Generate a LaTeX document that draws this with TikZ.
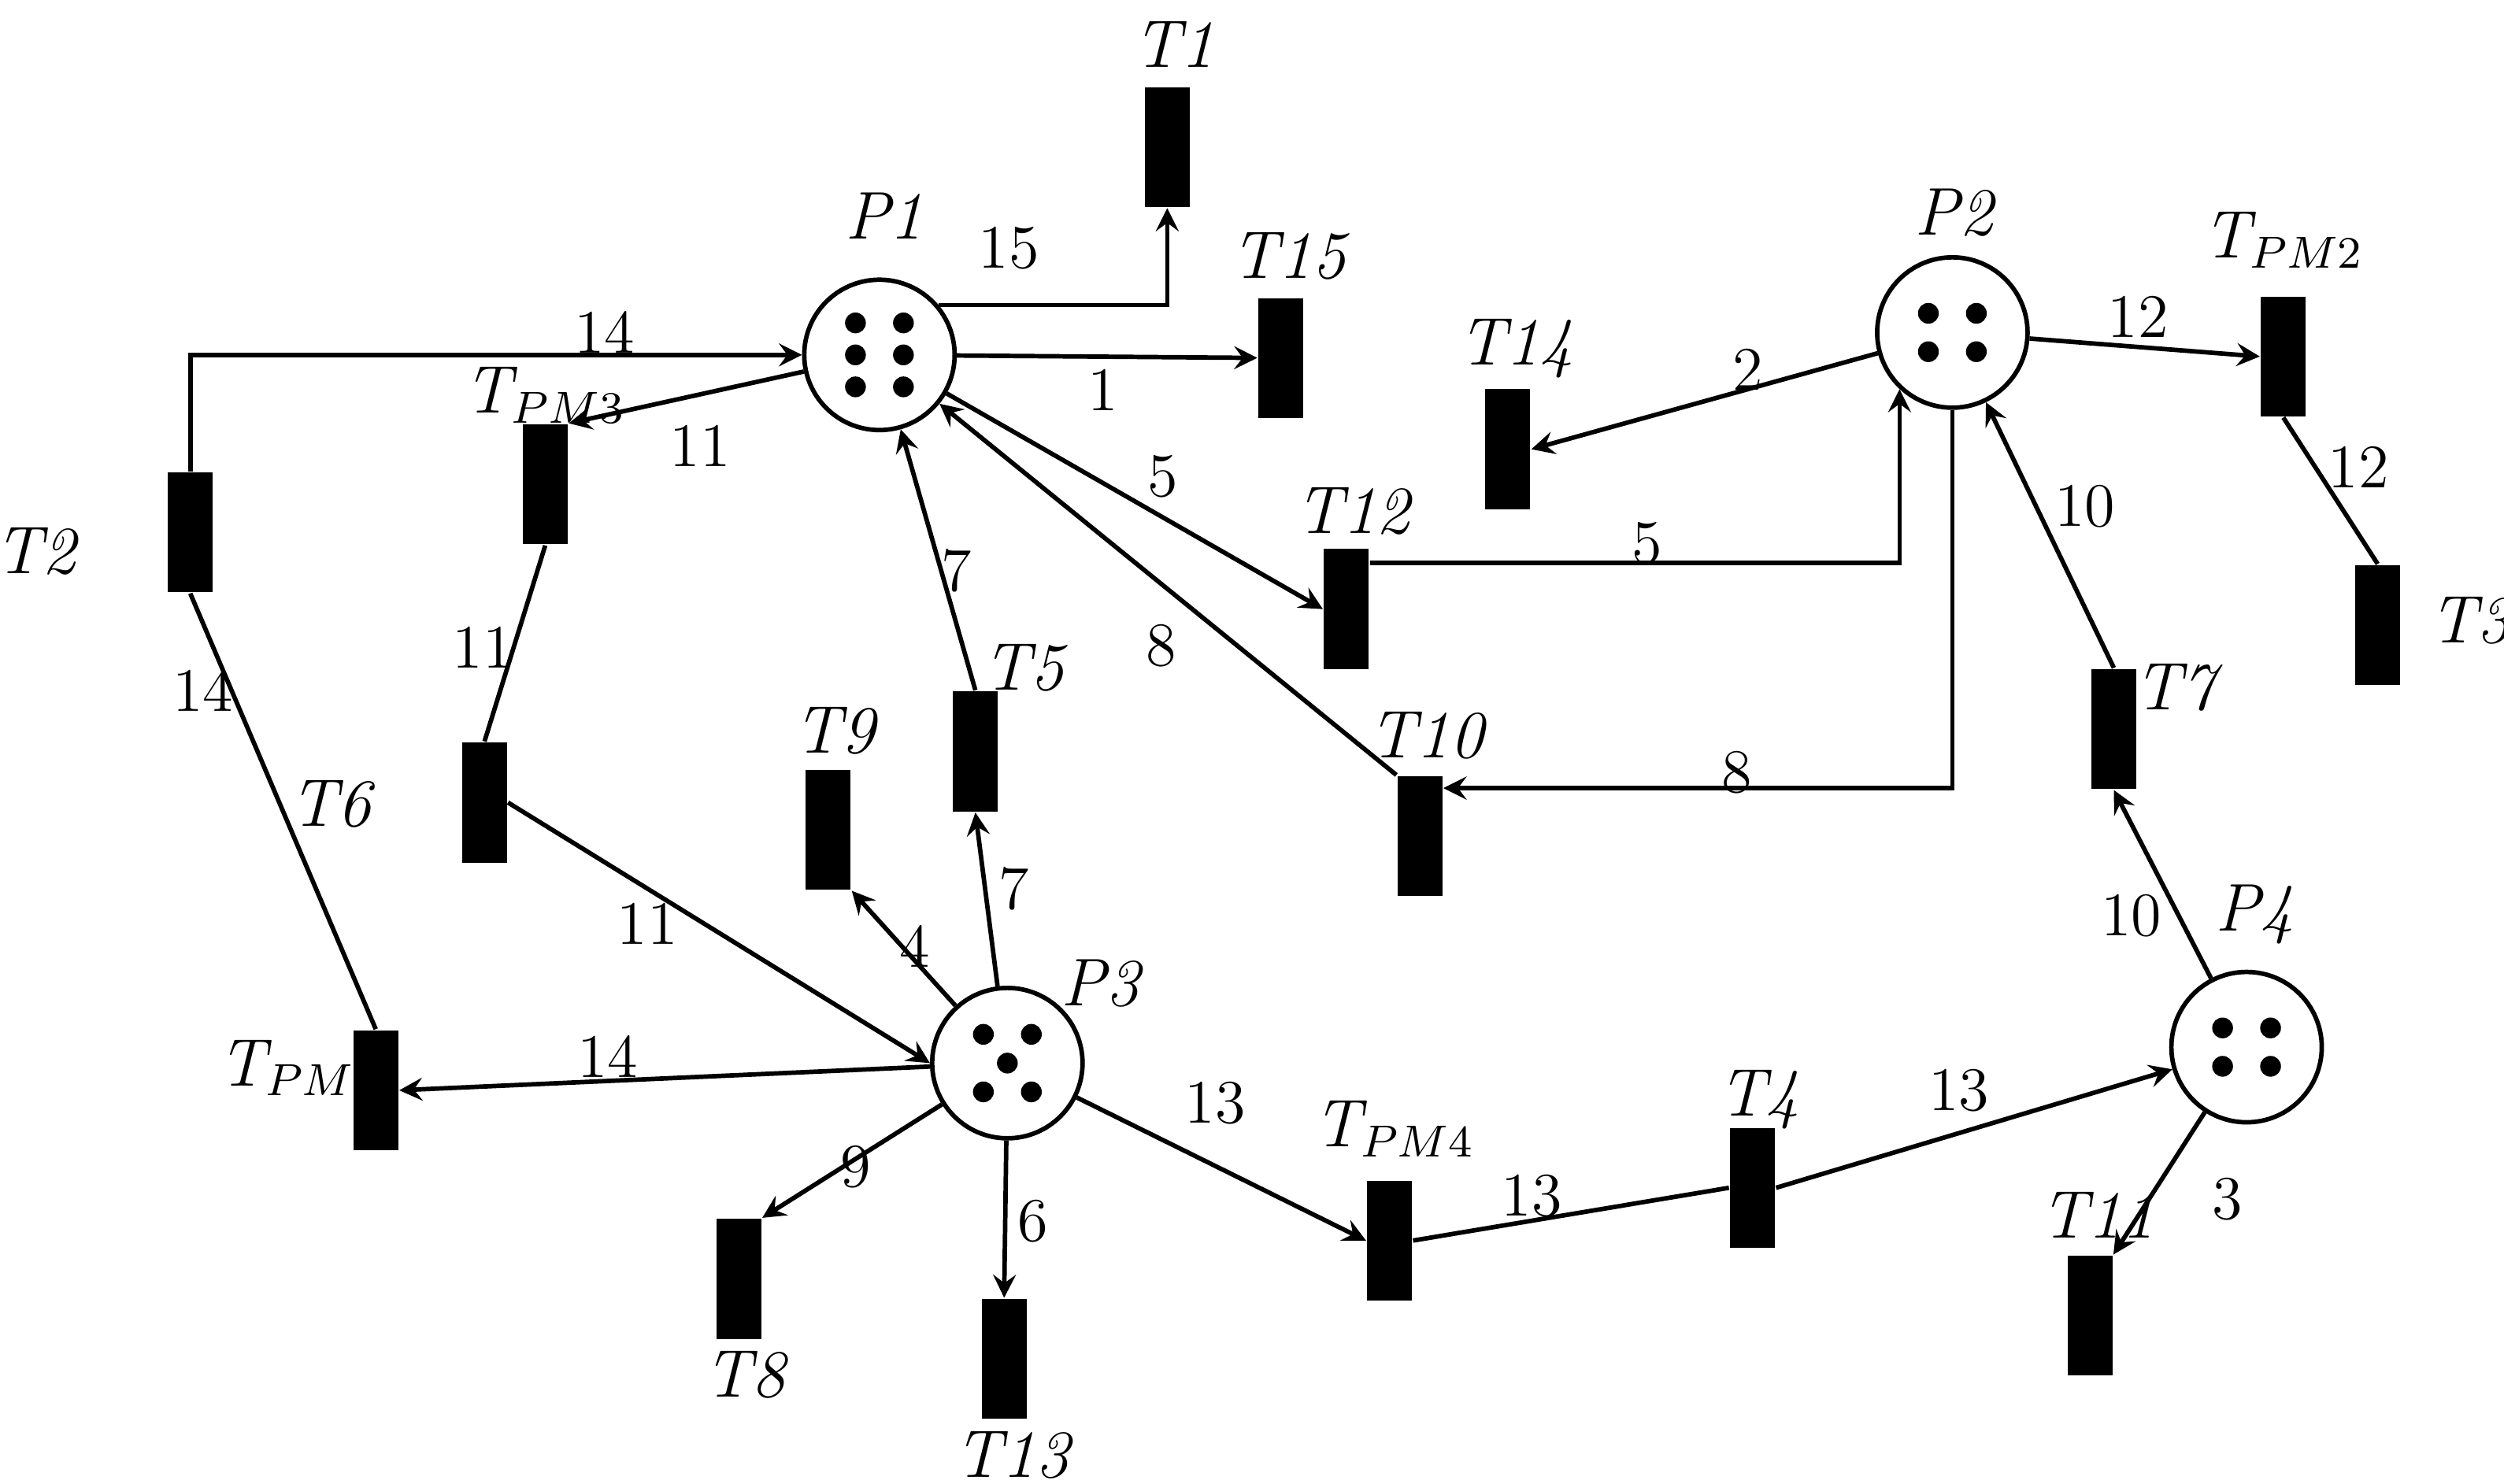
\documentclass[tikz,border=0pt]{standalone}
\usepackage{tikz}
\usetikzlibrary{shapes,arrows,positioning,calc}
\begin{document}
\begin{tikzpicture}[x=0.01cm,y=-0.01cm,font=\fontsize{11}{13}\selectfont]
        % Define styles
        \tikzstyle{place} = [circle, draw, thick, minimum size=0.94cm, inner sep=0pt]
        \tikzstyle{trans} = [rectangle, fill=black, minimum width=0.28cm, minimum height=0.75cm, inner sep=0pt]
        \tikzstyle{arrow} = [thick,->,>=stealth]
        \tikzstyle{line} = [thick]
        \tikzstyle{tok} = [circle, fill=black, minimum size=0.13cm, inner sep=0pt]
        \tikzstyle{lbl} = [font=\fontsize{12}{14}\selectfont\itshape]
        \useasboundingbox (0,0) rectangle (1566,928);

        % Places
        \node [place] (P1) at (550,222) {};
        \node [place] (P2) at (1221,208) {};
        \node [place] (P3) at (630,665) {};
        \node [place] (P4) at (1405,655) {};
        % Tokens
        \foreach \dx in {-15,15} \foreach \dy in {-20,0,20}
            \node [tok] at ($(P1)+(\dx,\dy)$) {};
        \foreach \dx in {-15,15} \foreach \dy in {-12,12} {
            \node [tok] at ($(P2)+(\dx,\dy)$) {};
            \node [tok] at ($(P4)+(\dx,\dy)$) {};
        }
        \foreach \dx/\dy in {-15/-18,15/-18,0/0,-15/18,15/18}
            \node [tok] at ($(P3)+(\dx,\dy)$) {};

        % Transitions
        \node [trans] (T1) at (730,92) {};
        \node [trans] (T15) at (801,224) {};
        \node [trans] (T14) at (943,281) {};
        \node [trans] (TPM2) at (1428,223) {};
        \node [trans] (T2) at (119,333) {};
        \node [trans] (TPM3) at (341,303) {};
        \node [trans] (T12) at (842,381) {};
        \node [trans] (T3) at (1487,391) {};
        \node [trans] (T6) at (303,502) {};
        \node [trans] (T5) at (610,470) {};
        \node [trans] (T9) at (518,519) {};
        \node [trans] (T10) at (888,523) {};
        \node [trans] (T7) at (1322,456) {};
        \node [trans] (TPM1) at (235,682) {};
        \node [trans] (TPM4) at (869,776) {};
        \node [trans] (T4) at (1096,743) {};
        \node [trans] (T8) at (462,800) {};
        \node [trans] (T13) at (628,850) {};
        \node [trans] (T11) at (1307,823) {};

        % Names
        \node [lbl] at (553,135) {P1};
        \node [lbl] at (1222,133) {P2};
        \node [lbl] at (688,615) {P3};
        \node [lbl] at (1410,572) {P4};
        \node [lbl] at (734,28) {T1};
        \node [lbl] at (806,160) {T15};
        \node [lbl] at (948,218) {T14};
        \node [lbl] at (1428,150) {T$_{PM2}$};
        \node [lbl] at (22,345) {T2};
        \node [lbl] at (341,247) {T$_{PM3}$};
        \node [lbl] at (846,320) {T12};
        \node [lbl] at (1545,388) {T3};
        \node [lbl] at (207,503) {T6};
        \node [lbl] at (640,418) {T5};
        \node [lbl] at (522,457) {T9};
        \node [lbl] at (892,460) {T10};
        \node [lbl] at (1360,430) {T7};
        \node [lbl] at (187,668) {T$_{PM1}$};
        \node [lbl] at (872,706) {T$_{PM4}$};
        \node [lbl] at (1100,688) {T4};
        \node [lbl] at (466,860) {T8};
        \node [lbl] at (633,910) {T13};
        \node [lbl] at (1312,760) {T11};

        % Arcs
        \draw [arrow] (T2.north) |- (P1.west);
        \draw [line] (T2.south) -- (TPM1.north);
        \draw [arrow] (P1) -- (TPM3.north east);
        \draw [line] (TPM3.south) -- (T6.north);
        \draw [arrow] (T6.east) -- (P3.west);
        \draw [arrow] (P1.40) -| (T1.south);
        \draw [arrow] (P1) -- (T15);
        \draw [arrow] (P1) -- (T12.west);
        \draw [arrow] ([yshift=0.29cm]T12.east) -| (P2.-133);
        \draw [arrow] (P2) -- (T14.east);
        \draw [arrow] (P2) -- (TPM2.west);
        \draw [line] (TPM2.south) -- (T3.north);
        \draw [arrow] (P2.south) |- ([yshift=0.3cm]T10.east);
        \draw [arrow] (T10.north west) -- (P1);
        \draw [arrow] (T5.north) -- (P1);
        \draw [arrow] (P3) -- (T5.south);
        \draw [arrow] (P3) -- (T9.south east);
        \draw [arrow] (P3) -- (TPM1.east);
        \draw [arrow] (P3) -- (T8.north east);
        \draw [arrow] (P3) -- (T13.north);
        \draw [arrow] (P3) -- (TPM4.west);
        \draw [line] (TPM4.east) -- (T4.west);
        \draw [arrow] (T4.east) -- (P4);
        \draw [arrow] (P4) -- (T7.south);
        \draw [arrow] (T7.north) -- (P2);
        \draw [arrow] (P4) -- (T11.north east);

        % Weights
        \node at (378,208) {14};
        \node at (127,432) {14};
        \node at (438,279) {11};
        \node at (302,405) {11};
        \node at (405,578) {11};
        \node at (631,155) {15};
        \node at (690,244) {1};
        \node at (727,298) {5};
        \node at (1030,340) {5};
        \node at (1093,231) {2};
        \node at (1337,198) {12};
        \node at (1475,292) {12};
        \node at (1086,483) {8};
        \node at (726,404) {8};
        \node at (598,357) {7};
        \node at (634,556) {7};
        \node at (572,592) {4};
        \node at (380,661) {14};
        \node at (535,730) {9};
        \node at (646,764) {6};
        \node at (760,690) {13};
        \node at (958,748) {13};
        \node at (1225,682) {13};
        \node at (1333,573) {10};
        \node at (1304,317) {10};
        \node at (1393,750) {3};

    \end{tikzpicture}
\end{document}
